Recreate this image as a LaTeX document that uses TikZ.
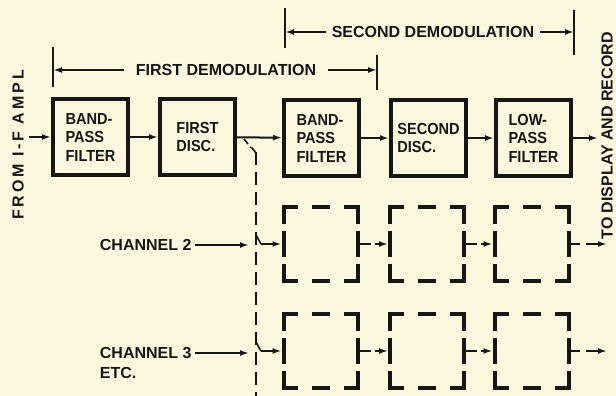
\documentclass[tikz,border=0pt]{standalone}
\usepackage{fontspec}
\setmainfont{Liberation Sans}
\newfontfamily\boxfont[FakeStretch=0.91]{Liberation Sans}
\usetikzlibrary{arrows.meta}
\definecolor{paper}{RGB}{251,247,222}
\definecolor{ink}{RGB}{24,22,20}

\begin{document}
\begin{tikzpicture}[x=1pt, y=-1pt, ink,
    font=\fontsize{16}{18.5}\selectfont\bfseries,
    blk/.style={draw, line width=4pt, minimum width=75pt, minimum height=76pt, inner sep=0pt, align=left,
        font=\boxfont\fontsize{16}{18.5}\selectfont\bfseries},
    dblk/.style={draw, line width=4pt, minimum size=74pt, inner sep=0pt, line cap=rect,
        dash pattern=on 27pt off 18pt on 14pt off 18pt on 27pt off 11pt on 22pt off 11pt, dash phase=15pt},
    link/.style={-{Latex[length=9pt,width=6pt]}, line width=2pt},
    dlink/.style={link, dash pattern=on 11pt off 4pt on 60pt},
    dimtext/.style={inner xsep=12pt, inner ysep=0pt},
    tick/.style={line width=1.5pt}]
    % papier
    \fill[paper] (0,0) rectangle (616,396);
    \useasboundingbox (0,0) rectangle (616,396);

    % erste Reihe
    \node[blk] (bpf1) at (90.5,137) {BAND-\\PASS\\FILTER};
    \node[blk] (disc1) at (197.5,137) {FIRST\\DISC.};
    \node[blk] (bpf2) at (321.5,138) {BAND-\\PASS\\FILTER};
    \node[blk] (disc2) at (428.5,138) {SECOND\\DISC.};
    \node[blk] (lpf) at (533.5,138) {LOW-\\PASS\\FILTER};

    % Eingang
    \node[rotate=90, font=\fontsize{16}{18}\selectfont\bfseries\addfontfeature{LetterSpace=18}] (ifampl) at (18,145) {FROM I-F AMPL};
    \coordinate (inp) at (29,137);
    \draw[link] (inp) -- (bpf1.west);
    \draw[link] (bpf1) -- (disc1);
    \draw[link] (disc1) -- (bpf2);
    \draw[link] (bpf2) -- (disc2);
    \draw[link] (disc2) -- (lpf);
    \coordinate (out1) at (598,138);
    \draw[link] (lpf) -- (out1);

    % Ausgang
    \node[rotate=90, anchor=west] (disp) at (607,243) {TO DISPLAY AND RECORD};

    % Abzweig
    \coordinate (tap) at (256,152);
    \coordinate (tapend) at (256,396);
    \draw[line width=1.6pt] (244,139) -- (248,144);
    \draw[line width=1.6pt] (250,147) to[out=0, in=-90] (tap);
    \draw[line width=1.6pt, dash pattern=on 13pt off 7pt] (tap) -- (tapend);

    % erste Demodulation
    \coordinate (fl) at (53,47);
    \coordinate (fr) at (377,55);
    \draw[tick] (fl) -- ++(0,40);
    \draw[tick] (fr) -- ++(0,35);
    \node[dimtext] (fdem) at (226,70) {FIRST DEMODULATION};
    \draw[link] (fdem.west) -- (fdem.west -| fl);
    \draw[link] (fdem.east) -- (fdem.east -| fr);

    % zweite Demodulation
    \coordinate (sl) at (285,8);
    \coordinate (sr) at (574,10);
    \draw[tick] (sl) -- ++(0,40);
    \draw[tick] (sr) -- ++(0,45);
    \node[dimtext, inner xsep=6pt] (sdem) at (433,32) {SECOND DEMODULATION};
    \draw[link] (sdem.west) -- (sdem.west -| sl);
    \draw[link] (sdem.east) -- (sdem.east -| sr);

    % Kanal 2
    \node[dblk] (a2) at (320.5,244) {};
    \node[dblk] (b2) at (427,244) {};
    \node[dblk] (c2) at (531.5,244) {};
    \node[anchor=east] (ch2) at (195,245) {CHANNEL 2};
    \coordinate (sw2) at (249,245);
    \coordinate (k2) at (261,244);
    \draw[link] (ch2.east) -- (sw2);
    \draw[line width=1.6pt] (256,235) -- (k2);
    \draw[link] (k2) -- (a2.west);
    \draw[dlink] (a2) -- (b2);
    \draw[dlink] (b2) -- (c2);
    \coordinate (out2) at (607,244);
    \draw[dlink, dash pattern=on 9pt off 6pt on 60pt] (c2) -- (out2);

    % Kanal 3
    \node[dblk] (a3) at (320.5,351) {};
    \node[dblk] (b3) at (427,351) {};
    \node[dblk] (c3) at (531.5,351) {};
    \node[anchor=east] (ch3) at (195,353) {CHANNEL 3};
    \node[anchor=north west] (etc) at ([yshift=-2pt]ch3.south west) {ETC.};
    \coordinate (sw3) at (249,353);
    \coordinate (k3) at (261,351);
    \draw[link] (ch3.east) -- (sw3);
    \draw[line width=1.6pt] (256,342) -- (k3);
    \draw[link] (k3) -- (a3.west);
    \draw[dlink] (a3) -- (b3);
    \draw[dlink] (b3) -- (c3);
    \coordinate (out3) at (607,351);
    \draw[dlink, dash pattern=on 9pt off 6pt on 60pt] (c3) -- (out3);
\end{tikzpicture}
\end{document}
